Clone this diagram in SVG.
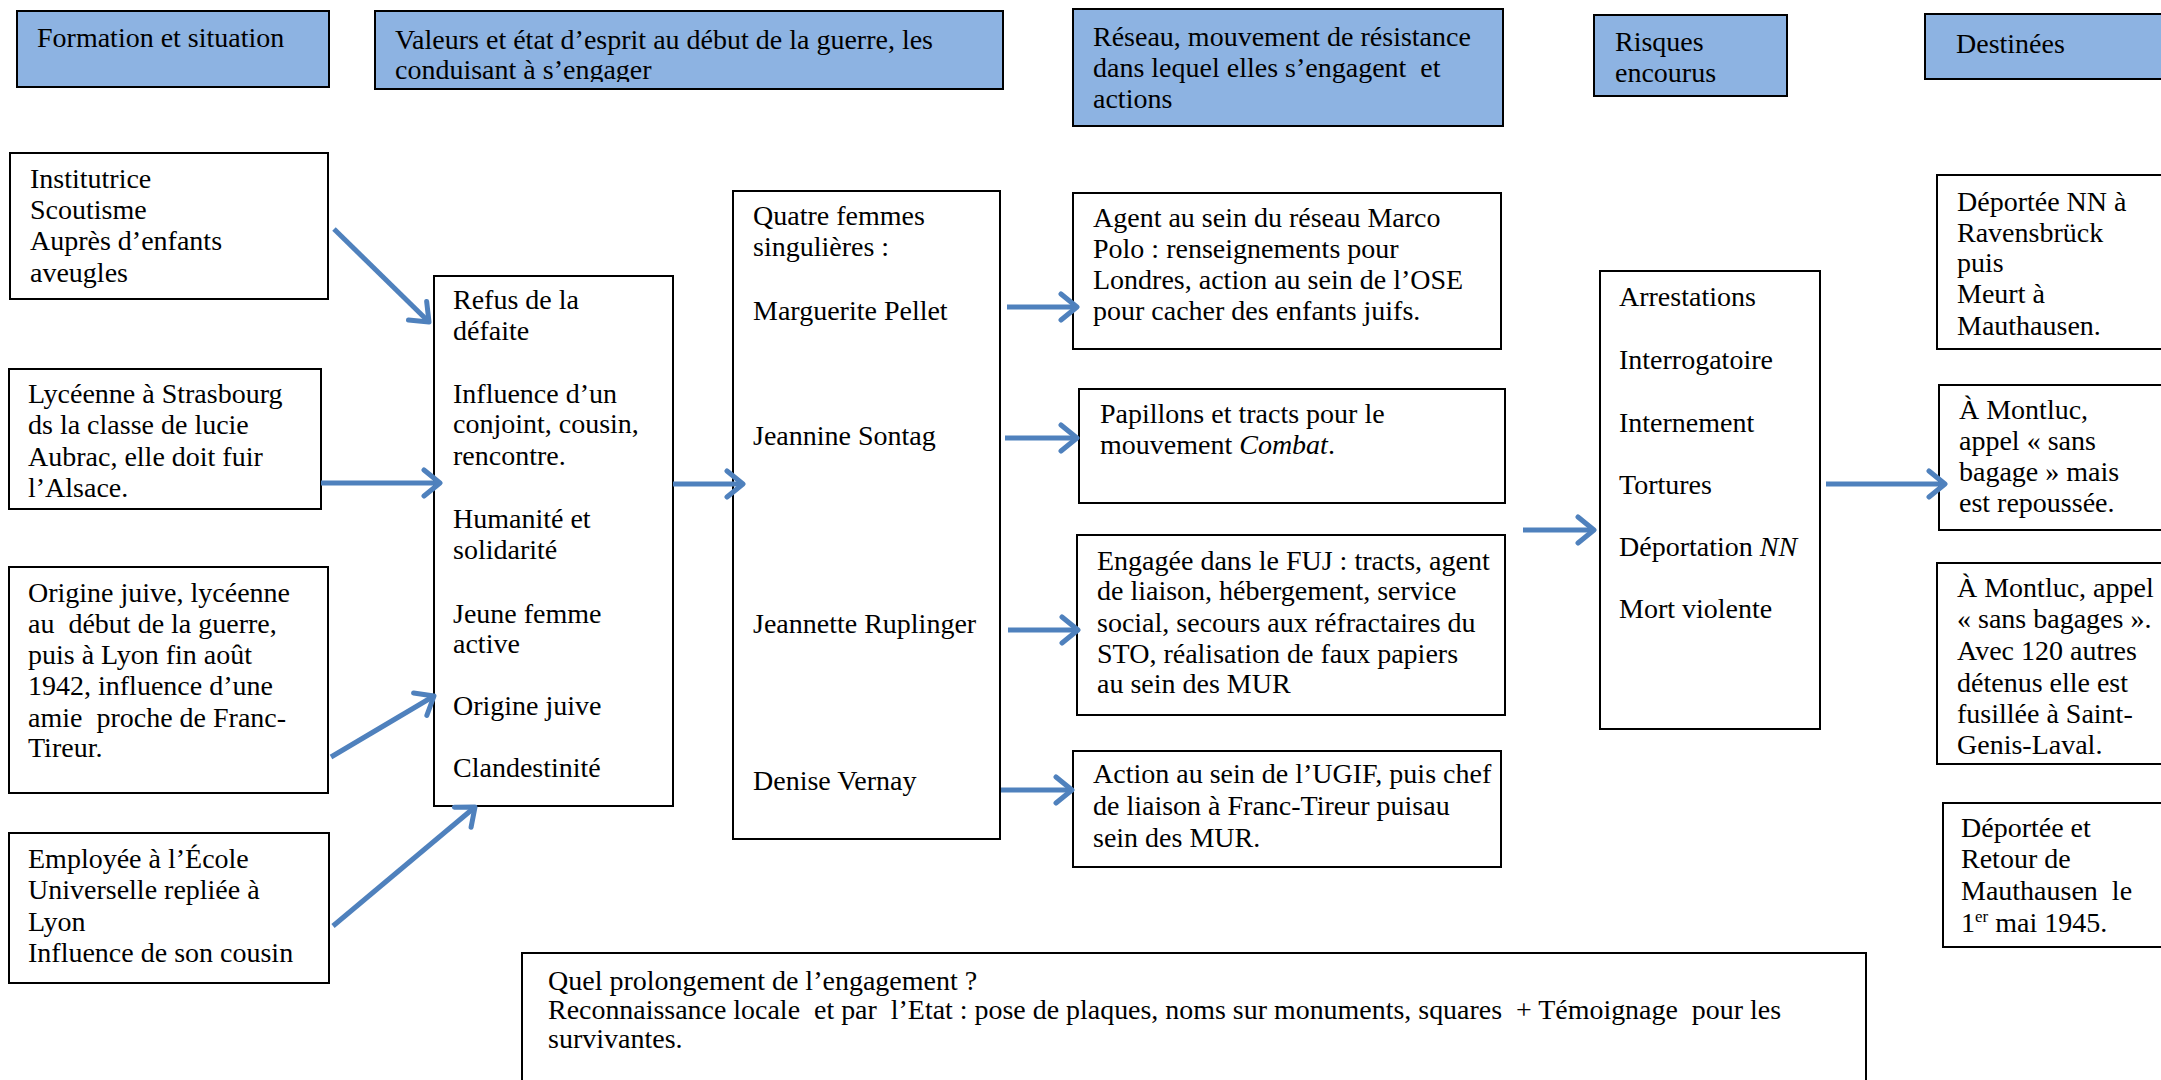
<svg xmlns="http://www.w3.org/2000/svg" width="2161" height="1080" viewBox="0 0 2161 1080" xml:space="preserve">
<style>
.hdr{fill:#8DB3E2;stroke:#000;stroke-width:2}
.box{fill:#fff;stroke:#000;stroke-width:2}
text{font-family:"Liberation Serif","Times New Roman",serif;font-size:28px;fill:#000;white-space:pre}
.arr{stroke:#4F81BD;stroke-width:5;fill:none;marker-end:url(#ah)}
</style>
<defs>
<marker id="ah" viewBox="0 0 22 32" refX="19" refY="16" markerWidth="22" markerHeight="32" markerUnits="userSpaceOnUse" orient="auto">
<path d="M3,3 L19,16 L3,29" fill="none" stroke="#4F81BD" stroke-width="5" stroke-linecap="round" stroke-linejoin="round"/>
</marker>
<clipPath id="c2"><rect x="375" y="11" width="628" height="71"/></clipPath>
</defs>
<rect width="2161" height="1080" fill="#fff"/>

<g id="h1"><rect class="hdr" x="17" y="11" width="312" height="76"/><text x="37" y="47">Formation et situation</text></g>
<g id="h2"><rect class="hdr" x="375" y="11" width="628" height="78"/>
<g clip-path="url(#c2)"><text x="395" y="49">Valeurs et état d’esprit au début de la guerre, les</text><text x="395" y="79">conduisant à s’engager</text></g></g>
<g id="h3"><rect class="hdr" x="1073" y="9" width="430" height="117"/><text x="1093" y="46">Réseau, mouvement de résistance</text><text x="1093" y="77">dans lequel elles s’engagent  et</text><text x="1093" y="108">actions</text></g>
<g id="h4"><rect class="hdr" x="1594" y="15" width="193" height="81"/><text x="1615" y="51">Risques</text><text x="1615" y="82">encourus</text></g>
<g id="h5"><rect class="hdr" x="1925" y="14" width="250" height="65"/><text x="1956" y="53">Destinées</text></g>

<g id="l1"><rect class="box" x="10" y="153" width="318" height="146"/><text x="30" y="188">Institutrice</text><text x="30" y="219">Scoutisme</text><text x="30" y="250">Auprès d’enfants</text><text x="30" y="282">aveugles</text></g>
<g id="l2"><rect class="box" x="9" y="369" width="312" height="140"/><text x="28" y="403">Lycéenne à Strasbourg</text><text x="28" y="434">ds la classe de lucie</text><text x="28" y="466">Aubrac, elle doit fuir</text><text x="28" y="497">l’Alsace.</text></g>
<g id="l3"><rect class="box" x="9" y="567" width="319" height="226"/><text x="28" y="602">Origine juive, lycéenne</text><text x="28" y="633">au  début de la guerre,</text><text x="28" y="664">puis à Lyon fin août</text><text x="28" y="695">1942, influence d’une</text><text x="28" y="727">amie  proche de Franc-</text><text x="28" y="757">Tireur.</text></g>
<g id="l4"><rect class="box" x="9" y="833" width="320" height="150"/><text x="28" y="868">Employée à l’École</text><text x="28" y="899">Universelle repliée à</text><text x="28" y="931">Lyon</text><text x="28" y="962">Influence de son cousin</text></g>

<g id="valeurs"><rect class="box" x="434" y="276" width="239" height="530"/><text x="453" y="309">Refus de la</text><text x="453" y="340">défaite</text><text x="453" y="403">Influence d’un</text><text x="453" y="433">conjoint, cousin,</text><text x="453" y="465">rencontre.</text><text x="453" y="528">Humanité et</text><text x="453" y="559">solidarité</text><text x="453" y="623">Jeune femme</text><text x="453" y="653">active</text><text x="453" y="715">Origine juive</text><text x="453" y="777">Clandestinité</text></g>

<g id="femmes"><rect class="box" x="733" y="191" width="267" height="648"/><text x="753" y="225">Quatre femmes</text><text x="753" y="256">singulières :</text><text x="753" y="320">Marguerite Pellet</text><text x="753" y="445">Jeannine Sontag</text><text x="753" y="633">Jeannette Ruplinger</text><text x="753" y="790">Denise Vernay</text></g>

<g id="r1"><rect class="box" x="1073" y="193" width="428" height="156"/><text x="1093" y="227">Agent au sein du réseau Marco</text><text x="1093" y="258">Polo : renseignements pour</text><text x="1093" y="289">Londres, action au sein de l’OSE</text><text x="1093" y="320">pour cacher des enfants juifs.</text></g>
<g id="r2"><rect class="box" x="1079" y="389" width="426" height="114"/><text x="1100" y="423">Papillons et tracts pour le</text><text x="1100" y="454">mouvement <tspan font-style="italic">Combat</tspan>.</text></g>
<g id="r3"><rect class="box" x="1077" y="535" width="428" height="180"/><text x="1097" y="570">Engagée dans le FUJ : tracts, agent</text><text x="1097" y="600">de liaison, hébergement, service</text><text x="1097" y="632">social, secours aux réfractaires du</text><text x="1097" y="663">STO, réalisation de faux papiers</text><text x="1097" y="693">au sein des MUR</text></g>
<g id="r4"><rect class="box" x="1073" y="751" width="428" height="116"/><text x="1093" y="783">Action au sein de l’UGIF, puis chef</text><text x="1093" y="815">de liaison à Franc-Tireur puisau</text><text x="1093" y="847">sein des MUR.</text></g>

<g id="risques"><rect class="box" x="1600" y="271" width="220" height="458"/><text x="1619" y="306">Arrestations</text><text x="1619" y="369">Interrogatoire</text><text x="1619" y="432">Internement</text><text x="1619" y="494">Tortures</text><text x="1619" y="556">Déportation <tspan font-style="italic">NN</tspan></text><text x="1619" y="618">Mort violente</text></g>

<g id="d1"><rect class="box" x="1937" y="175" width="240" height="174"/><text x="1957" y="211">Déportée NN à</text><text x="1957" y="242">Ravensbrück</text><text x="1957" y="272">puis</text><text x="1957" y="303">Meurt à</text><text x="1957" y="335">Mauthausen.</text></g>
<g id="d2"><rect class="box" x="1939" y="385" width="240" height="145"/><text x="1959" y="419">À Montluc,</text><text x="1959" y="450">appel « sans</text><text x="1959" y="481">bagage » mais</text><text x="1959" y="512">est repoussée.</text></g>
<g id="d3"><rect class="box" x="1937" y="563" width="240" height="201"/><text x="1957" y="597">À Montluc, appel</text><text x="1957" y="628">« sans bagages ».</text><text x="1957" y="660">Avec 120 autres</text><text x="1957" y="692">détenus elle est</text><text x="1957" y="723">fusillée à Saint-</text><text x="1957" y="754">Genis-Laval.</text></g>
<g id="d4"><rect class="box" x="1943" y="803" width="240" height="144"/><text x="1961" y="837">Déportée et</text><text x="1961" y="868">Retour de</text><text x="1961" y="900">Mauthausen  le</text><text x="1961" y="932">1<tspan font-size="17" dy="-10">er</tspan><tspan dy="10"> mai 1945.</tspan></text></g>

<g id="prolongement"><rect class="box" x="522" y="953" width="1344" height="140"/><text x="548" y="990">Quel prolongement de l’engagement ?</text><text x="548" y="1019" textLength="1233" lengthAdjust="spacingAndGlyphs">Reconnaissance locale  et par  l’Etat : pose de plaques, noms sur monuments, squares  + Témoignage  pour les</text><text x="548" y="1048">survivantes.</text></g>

<g id="connectors">
<line class="arr" x1="334" y1="229" x2="429" y2="322"/>
<line class="arr" x1="321" y1="483" x2="440" y2="483"/>
<line class="arr" x1="331" y1="757" x2="434" y2="696"/>
<line class="arr" x1="333" y1="926" x2="475" y2="807"/>
<line class="arr" x1="673" y1="484" x2="743" y2="484"/>
<line class="arr" x1="1007" y1="307" x2="1077" y2="307"/>
<line class="arr" x1="1005" y1="438" x2="1077" y2="438"/>
<line class="arr" x1="1008" y1="630" x2="1078" y2="630"/>
<line class="arr" x1="1001" y1="790" x2="1072" y2="790"/>
<line class="arr" x1="1523" y1="530" x2="1594" y2="530"/>
<line class="arr" x1="1826" y1="484" x2="1945" y2="484"/>
</g>
</svg>
